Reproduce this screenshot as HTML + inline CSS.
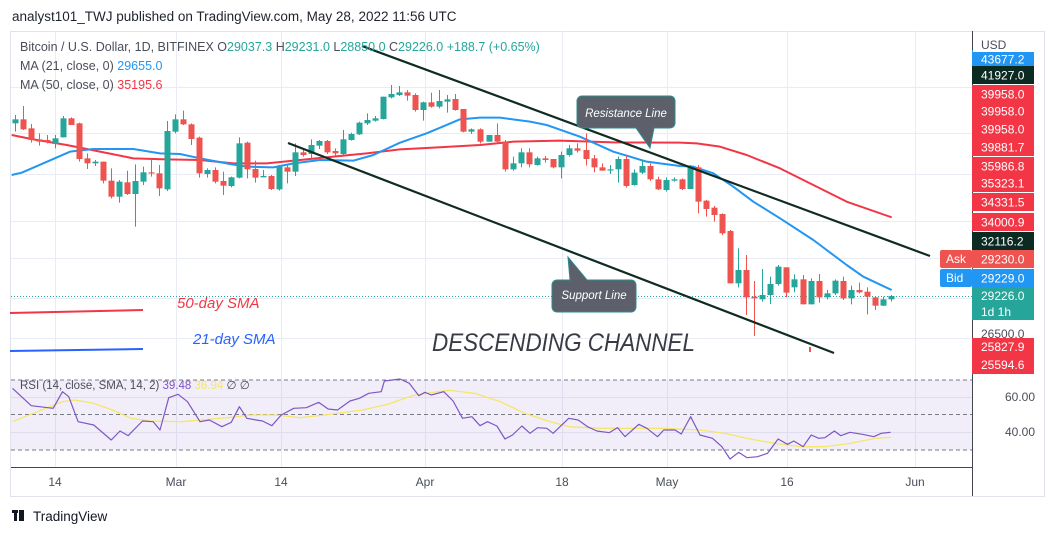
<!DOCTYPE html>
<html><head><meta charset="utf-8"><style>
body{margin:0;background:#fff;width:1052px;height:535px;overflow:hidden;font-family:"Liberation Sans",sans-serif}
svg{position:absolute;left:0;top:0}
</style></head><body>
<svg id="s" width="1052" height="535" viewBox="0 0 1052 535" font-family="Liberation Sans, sans-serif">
<rect x="0" y="0" width="1052" height="535" fill="#fff"/>
<text x="12" y="21" font-size="13.5" fill="#1e222d">analyst101_TWJ published on TradingView.com, May 28, 2022 11:56 UTC</text>
<rect x="10.5" y="31.5" width="1034" height="465" fill="none" stroke="#e0e3eb"/>
<g id="grid" stroke="#e9edf3" stroke-width="1"></g>
<rect x="11" y="380" width="961" height="70" fill="#7e57c2" fill-opacity="0.1"/>
<g stroke="#787b86" stroke-dasharray="4,3" stroke-width="1">
<line x1="11" y1="380" x2="972" y2="380"/><line x1="11" y1="414.5" x2="972" y2="414.5"/><line x1="11" y1="450" x2="972" y2="450"/></g>
<line x1="11" y1="467.5" x2="972" y2="467.5" stroke="#434651" stroke-width="1"/>
<line x1="972.5" y1="31" x2="972.5" y2="496" stroke="#434651" stroke-width="1"/>
<line x1="11" y1="296.5" x2="972" y2="296.5" stroke="#26a69a" stroke-dasharray="1,2"/>
<g id="ma"></g>
<g id="candles"></g>
<g stroke="#0f2b22" stroke-width="2.2"><line x1="362" y1="46" x2="930" y2="256"/><line x1="288" y1="143" x2="834" y2="353"/></g>
<rect x="809" y="347" width="2" height="5" fill="#ef5350"/>
<g fill="#5d606b" stroke="#2a8a8a" stroke-width="1">
<path d="M582,96 h88 a5,5 0 0 1 5,5 v22 a5,5 0 0 1 -5,5 h-16 l-4,20 l-14,-20 h-54 a5,5 0 0 1 -5,-5 v-22 a5,5 0 0 1 5,-5z"/>
<path d="M557,280 h13 l-2,-23 l19,23 h44 a5,5 0 0 1 5,5 v22 a5,5 0 0 1 -5,5 h-74 a5,5 0 0 1 -5,-5 v-22 a5,5 0 0 1 5,-5z"/>
</g>
<text x="626" y="117" font-size="11.5" font-style="italic" fill="#fff" text-anchor="middle">Resistance Line</text>
<text x="594" y="299" font-size="11.5" font-style="italic" fill="#fff" text-anchor="middle">Support Line</text>
<line x1="10" y1="313" x2="143" y2="310" stroke="#f23645" stroke-width="2"/>
<line x1="10" y1="351" x2="143" y2="349" stroke="#2962ff" stroke-width="2"/>
<text x="177" y="308" font-size="15" font-style="italic" fill="#f23645">50-day SMA</text>
<text x="193" y="344" font-size="15" font-style="italic" fill="#2962ff">21-day SMA</text>
<text x="432" y="351" font-size="25" font-style="italic" fill="#3a3a45" textLength="263" lengthAdjust="spacingAndGlyphs">DESCENDING CHANNEL</text>
<text x="20" y="51" font-size="12.5" fill="#4a4e5a">Bitcoin / U.S. Dollar, 1D, BITFINEX <tspan fill="#4a4e5a">O</tspan><tspan fill="#26a69a">29037.3</tspan> <tspan fill="#4a4e5a">H</tspan><tspan fill="#26a69a">29231.0</tspan> <tspan fill="#4a4e5a">L</tspan><tspan fill="#26a69a">28850.0</tspan> <tspan fill="#4a4e5a">C</tspan><tspan fill="#26a69a">29226.0 +188.7 (+0.65%)</tspan></text>
<text x="20" y="70" font-size="12.5" fill="#4a4e5a">MA (21, close, 0) <tspan fill="#2196f3">29655.0</tspan></text>
<text x="20" y="89" font-size="12.5" fill="#4a4e5a">MA (50, close, 0) <tspan fill="#f23645">35195.6</tspan></text>
<g id="rsi"></g>
<text x="20" y="389" font-size="11.5" fill="#4a4e5a">RSI (14, close, SMA, 14, 2) <tspan fill="#7e57c2">39.48</tspan> <tspan fill="#f5e66a">36.94</tspan> ∅ ∅</text>
<g font-size="12" fill="#4a4e5a" text-anchor="middle">
<text x="55" y="486">14</text><text x="176" y="486">Mar</text><text x="281" y="486">14</text><text x="425" y="486">Apr</text><text x="562" y="486">18</text><text x="667" y="486">May</text><text x="787" y="486">16</text><text x="915" y="486">Jun</text></g>
<g font-size="12" fill="#4a4e5a"><text x="1005" y="401">60.00</text><text x="1005" y="436">40.00</text></g>
<g id="labels" font-size="12"></g>
<rect x="973" y="32" width="62" height="20" fill="#fff"/>
<text x="981" y="49" font-size="12" fill="#4a4e5a">USD</text>
<rect x="940" y="250" width="32" height="18" rx="2" fill="#ef5350"/><text x="946" y="263" font-size="12" fill="#fff">Ask</text>
<rect x="940" y="269" width="32" height="18" rx="2" fill="#2196f3"/><text x="946" y="282" font-size="12" fill="#fff">Bid</text>
<g fill="#131722"><rect x="12" y="510" width="6" height="3"/><rect x="14" y="510" width="3" height="11"/><rect x="19" y="510" width="5" height="11"/><circle cx="22" cy="512" r="1.5"/></g>
<text x="33" y="521" font-size="13.5" fill="#131722">TradingView</text>
</svg>
<script>
var NS="http://www.w3.org/2000/svg";
function el(p,t,a){var e=document.createElementNS(NS,t);for(var k in a)e.setAttribute(k,a[k]);p.appendChild(e);return e;}
var g=document.getElementById('grid');
[87,133,174,221,258,298,338].forEach(function(y){el(g,'line',{x1:11,y1:y+.5,x2:972,y2:y+.5});});
[397,432].forEach(function(y){el(g,'line',{x1:11,y1:y+.5,x2:972,y2:y+.5});});
[55,176,281,425,562,667,787,915].forEach(function(x){el(g,'line',{x1:x+.5,y1:31,x2:x+.5,y2:467});});
var c3=[[15,118,130,105,155,1],[23,118,148,78,150,0],[31,145,180,132,188,0],[39,178,185,160,197,0],[47,180,185,165,190,0],[55,175,192,165,205,1],[63,115,172,108,172,1],[71,115,135,112,135,0],[79,130,237,128,245,0],[87,235,250,220,267,0],[95,245,250,240,258,1],[103,245,302,245,310,0],[111,302,350,265,355,0],[119,305,350,300,368,1],[127,307,342,272,345,0],[135,303,342,253,440,1],[143,277,305,260,315,1],[151,277,280,240,290,0],[159,280,325,255,348,0],[167,153,328,123,333,1],[175,118,155,103,160,1],[183,118,133,92,135,0],[191,133,177,130,195,0],[199,173,280,170,293,0],[207,270,282,265,293,1],[215,270,305,262,310,0],[223,303,317,275,345,0],[231,292,318,290,322,1],[239,190,293,172,295,1],[247,188,268,185,295,0],[255,267,293,242,308,0],[263,288,292,270,292,1],[271,288,327,285,330,0],[279,260,328,255,332,1],[287,262,275,252,310,0],[295,217,275,190,288,1],[303,217,225,210,230,0],[311,195,222,178,237,1],[319,183,197,180,207,1],[327,183,217,180,222,0],[335,213,220,205,228,0],[343,178,222,150,225,1],[351,162,180,158,182,1],[359,128,163,125,165,1],[367,120,130,100,135,1],[375,115,122,108,125,1],[383,50,117,50,118,1],[391,42,52,15,55,1],[399,37,45,18,48,1],[407,37,47,30,62,0],[415,45,90,40,95,0],[423,67,90,65,122,1],[431,67,80,38,83,0],[439,63,80,30,85,1],[447,58,65,45,98,1],[455,57,90,42,92,0],[463,87,155,87,157,0],[471,148,155,145,162,1],[480,148,185,145,190,0]];
var c4=[[489,165,185,165,185,1],[497,165,185,130,187,0],[505,185,268,180,275,0],[513,250,268,230,272,1],[521,217,250,205,262,1],[529,217,253,205,262,0],[537,235,255,230,257,1],[545,235,240,228,248,0],[553,237,262,237,265,0],[561,225,262,215,295,1],[569,205,225,195,230,1],[577,205,212,190,218,0],[586,210,237,160,257,0],[594,235,262,225,277,0],[602,262,272,250,272,0],[610,268,270,255,282,1],[618,237,268,230,308,1],[626,237,318,225,323,0],[634,278,315,268,317,1],[642,258,278,240,282,1],[650,258,298,250,303,0],[658,298,328,290,330,0],[666,300,330,292,335,1],[674,298,302,292,305,1],[682,298,327,295,330,0],[690,262,327,255,327,1],[698,262,365,255,400,0],[706,362,387,360,410,0],[714,383,405,378,425,0],[722,402,460,400,465,0],[730,453,610,450,610,0],[738,570,610,505,622,1],[746,570,652,525,705,0],[754,650,655,603,768,0],[762,645,658,567,665,1],[770,612,645,590,672,1],[778,560,612,555,617,1],[786,562,638,562,652,0],[794,598,622,583,637,1],[803,598,673,585,673,0],[811,603,673,595,673,1],[819,603,652,582,668,0],[827,640,652,630,658,1],[835,602,640,598,645,1],[843,603,655,590,660,0],[851,630,655,617,673,1],[859,630,637,608,640,0],[867,635,650,622,703,0],[875,652,677,648,690,0],[883,658,677,650,678,1],[891,648,658,645,665,1]];
var cg=document.getElementById('candles');
function draw(c){var col=c[5]?'#26a69a':'#ef5350';var y=function(v){return 80+v/3;};
el(cg,'line',{x1:c[0]+.5,y1:y(c[3]),x2:c[0]+.5,y2:y(c[4]),stroke:col,'stroke-width':1});
var h=Math.max(1.2,y(c[2])-y(c[1]));el(cg,'rect',{x:c[0]-2.5,y:y(c[1]),width:6,height:h,fill:col});}
c3.forEach(draw);c4.forEach(draw);
var mg=document.getElementById('ma');
function poly(pts,col,w,p){el(p||mg,'polyline',{points:pts.map(function(q){return q[0]+','+q[1];}).join(' '),fill:'none',stroke:col,'stroke-width':w,'stroke-linejoin':'round'});}
function z3(a){return a.map(function(q){return [q[0]/3,80+q[1]/3];});}
function z4(a){return a.map(function(q){return [480+q[0]/3,80+q[1]/3];});}
var blue=z3([[35,285],[65,278],[130,250],[210,215],[280,207],[400,207],[480,220],[540,222],[600,235],[690,252],[740,260],[820,262],[880,250],[960,240],[1060,242],[1120,225],[1200,188],[1280,160],[1380,118],[1440,113]]).concat(z4([[60,113],[150,125],[200,135],[300,170],[400,215],[500,245],[600,258],[640,260],[700,280],[760,320],[820,365],[900,415],[1000,480],[1100,555],[1150,590],[1235,630]]));
var red=z3([[35,165],[100,178],[200,195],[300,215],[400,235],[500,238],[600,240],[700,250],[800,250],[900,240],[1000,230],[1100,220],[1200,208],[1300,203],[1440,195]]).concat(z4([[100,185],[240,182],[400,187],[600,188],[650,190],[720,200],[800,225],[900,265],[1000,315],[1100,365],[1235,412]]));
poly(red,'#f23645',2);poly(blue,'#2196f3',2);
var rg=document.getElementById('rsi');
function zr(a){return a.map(function(q){return [q[0]/1.6,365+q[1]/3];});}
poly(zr([[20,170],[60,140],[100,110],[120,105],[150,115],[180,135],[210,160],[240,168],[290,170],[340,162],[380,155],[400,150],[440,150],[480,158],[520,150],[580,135],[620,118],[660,92],[700,80],[720,76],[760,85],[800,110],[840,145],[880,170],[910,185],[960,190],[1060,190],[1120,195],[1160,205],[1200,222],[1240,235],[1280,245],[1320,245],[1360,235],[1400,220],[1425,217]]),'#f5e66a',1.3,rg);
poly(zr([[20,70],[50,122],[85,130],[100,80],[110,95],[125,170],[150,180],[178,225],[192,198],[205,212],[228,168],[245,170],[256,195],[270,98],[285,88],[300,110],[320,170],[335,165],[355,185],[370,172],[383,125],[395,160],[410,165],[420,168],[435,182],[450,150],[470,130],[490,128],[510,112],[525,132],[540,135],[560,108],[575,100],[590,85],[610,80],[615,48],[640,42],[655,55],[670,92],[680,82],[690,90],[710,80],[725,108],[740,160],[755,155],[768,182],[780,170],[795,183],[808,222],[820,210],[835,183],[848,205],[860,188],[875,190],[885,205],[910,160],[925,165],[940,185],[955,198],[975,203],[988,188],[1000,215],[1022,178],[1035,190],[1052,215],[1062,195],[1080,195],[1090,207],[1105,155],[1120,210],[1140,220],[1155,245],[1168,282],[1182,262],[1195,278],[1212,275],[1228,265],[1245,222],[1260,238],[1270,228],[1285,245],[1298,210],[1310,220],[1320,218],[1335,198],[1345,212],[1360,202],[1380,208],[1398,215],[1410,205],[1425,202]]),'#7e57c2',1.2,rg);
var lg=document.getElementById('labels');
var L=[[59,'43677.2','#2196f3'],[75,'41927.0','#0b2a22'],[94,'39958.0','#f23645'],[111,'39958.0','#f23645'],[129,'39958.0','#f23645'],[147,'39881.7','#f23645'],[166,'35986.8','#f23645'],[183,'35323.1','#f23645'],[202,'34331.5','#f23645'],[222,'34000.9','#f23645'],[241,'32116.2','#0b2a22'],[259,'29230.0','#ef5350'],[278,'29229.0','#2196f3']];
el(lg,'text',{x:981,y:338,fill:'#4a4e5a'}).textContent='26500.0';
el(lg,'rect',{x:972,y:356,width:62,height:18,fill:'#f23645'});el(lg,'text',{x:981,y:369,fill:'#fff'}).textContent='25594.6';
L.forEach(function(l){el(lg,'rect',{x:972,y:l[0]-9,width:62,height:18,fill:l[2]});el(lg,'text',{x:981,y:l[0]+4.5,fill:'#fff'}).textContent=l[1];});
el(lg,'rect',{x:972,y:338,width:62,height:18,fill:'#f23645'});el(lg,'text',{x:981,y:351,fill:'#fff'}).textContent='25827.9';
el(lg,'rect',{x:972,y:287,width:62,height:33,fill:'#26a69a'});
el(lg,'text',{x:981,y:300,fill:'#fff'}).textContent='29226.0';el(lg,'text',{x:981,y:316,fill:'#fff'}).textContent='1d 1h';
</script>
</body></html>
